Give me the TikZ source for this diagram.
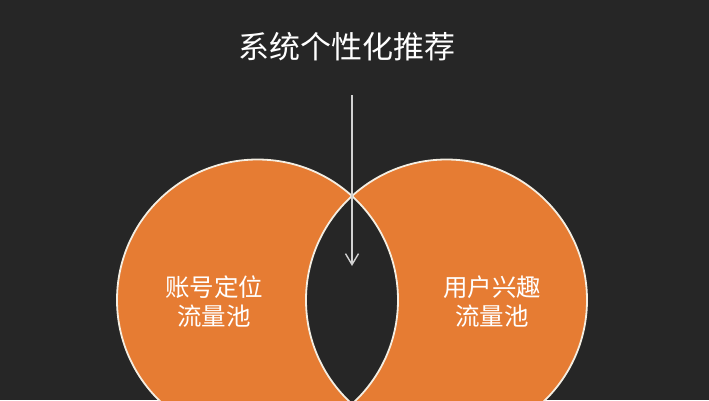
\documentclass[tikz,border=0pt]{standalone}
\usepackage{fontspec}
\setmainfont{Noto Sans CJK SC}
\usepackage{tikz}
\usetikzlibrary{arrows.meta}
\definecolor{bgdark}{HTML}{262626}
\definecolor{poolorange}{HTML}{E67C33}
\definecolor{rimwhite}{HTML}{F4EEE2}
\definecolor{arrowgray}{HTML}{D2D2D2}
\tikzset{
    pooltext/.style={
        text=white,
        align=center,
        font=\fontsize{24.5}{29}\selectfont
    },
    rim/.style={
        draw=rimwhite,
        line width=1.8pt
    },
    every node/.style={inner sep=0pt}
}

\begin{document}
\begin{tikzpicture}[x=1pt, y=-1pt]
  % Background
  \fill[bgdark] (0,0) rectangle (709,400);
  \useasboundingbox (0,0) rectangle (709,400);

  % Centres of the two pools
  \coordinate (acct) at (257.5,300);
  \coordinate (intr) at (446.5,300);

  % Both pools, overlap left dark
  \fill[poolorange] (acct) circle (140.5);
  \fill[poolorange] (intr) circle (140.5);
  \begin{scope}
    \clip (acct) circle (140.5);
    \fill[bgdark] (intr) circle (140.5);
  \end{scope}
  \draw[rim] (acct) circle (140.5);
  \draw[rim] (intr) circle (140.5);

  % Title and labels
  \node[text=white, font=\fontsize{31}{36}\selectfont] (title) at (347,47) {系统个性化推荐};
  \node[pooltext] (acctlabel) at (214,302) {账号定位\\流量池};
  \node[pooltext] (intrlabel) at (492,302) {用户兴趣\\流量池};

  % Arrow into the overlap
  \coordinate (start) at (352,95);
  \coordinate (tip) at (352,266);
  \draw[arrowgray, line width=1.4pt, -{Straight Barb[length=11pt, width=13pt]}] (start) -- (tip);
\end{tikzpicture}
\end{document}
